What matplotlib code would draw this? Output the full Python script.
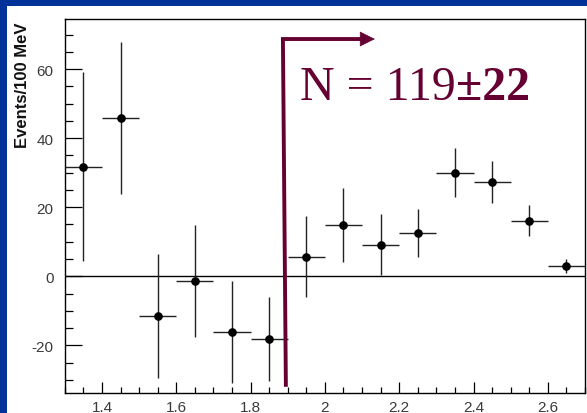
import matplotlib
matplotlib.use("Agg")
import matplotlib.pyplot as plt
from matplotlib.patches import Rectangle, FancyArrowPatch
from matplotlib.ticker import MultipleLocator

plt.rcParams["axes.unicode_minus"] = False

# Background-subtracted mass spectrum, 100 MeV bins
mass = [1.35, 1.45, 1.55, 1.65, 1.75, 1.85, 1.95, 2.05, 2.15, 2.25, 2.35, 2.45, 2.55, 2.65]
events = [31.7, 45.9, -11.5, -1.4, -16.1, -18.1, 5.7, 14.9, 9.1, 12.6, 30.0, 27.3, 16.1, 3.0]
errors = [27.4, 22.0, 18.0, 16.3, 14.7, 12.2, 11.8, 10.8, 8.8, 7.0, 7.1, 6.2, 4.4, 2.1]
bin_half = 0.05

# Signal-region marker and yield
cut_x_low, cut_x_high = 1.895, 1.887
cut_y_low, cut_y_high = -32.0, 68.7
arrow_tip_x = 2.142
yield_main = "N = 119"
yield_err = "±22"

maroon = "#660033"
frame_blue = "#003399"

fig = plt.figure(figsize=(5.87, 4.14), dpi=100)
fig.patch.set_facecolor("white")
fig.patches.append(Rectangle((0, 1 - 7 / 414), 1, 7 / 414, transform=fig.transFigure,
                             facecolor=frame_blue, edgecolor="none", zorder=0))
fig.patches.append(Rectangle((0, 0), 7 / 587, 1, transform=fig.transFigure,
                             facecolor=frame_blue, edgecolor="none", zorder=0))

ax = fig.add_axes([64.8 / 587, 1 - 394 / 414, (585 - 64.8) / 587, (394 - 20) / 414])
ax.set_xlim(1.3, 2.7)
ax.set_ylim(-33.8, 74.5)

ax.axhline(0, color="black", lw=1.0, zorder=1)

ax.errorbar(mass, events, yerr=errors, xerr=bin_half, fmt="o", color="black",
            ecolor="#222222", elinewidth=1.0, capsize=0, markersize=5.2, zorder=3)

# Signal region bracket with arrow
ax.plot([cut_x_low, cut_x_high, arrow_tip_x - 0.03], [cut_y_low, cut_y_high, cut_y_high],
        color=maroon, lw=2.8, solid_joinstyle="miter", solid_capstyle="butt", zorder=4)
ax.add_patch(FancyArrowPatch((arrow_tip_x - 0.05, cut_y_high), (arrow_tip_x, cut_y_high),
                             arrowstyle="-|>,head_length=10,head_width=5",
                             mutation_scale=1, color=maroon, lw=0.5, zorder=4))

t1 = ax.text(1.933, 51.3, yield_main, color=maroon, fontsize=34.5,
             family="Liberation Serif", va="baseline", ha="left")
ax.annotate(yield_err, xy=(1, 0), xycoords=t1, color=maroon, fontsize=34.5,
            family="Liberation Serif", fontweight="bold", va="bottom", ha="left")

for s in ax.spines.values():
    s.set_linewidth(1.0)
    s.set_color("black")

ax.xaxis.set_major_locator(MultipleLocator(0.2))
ax.xaxis.set_minor_locator(MultipleLocator(0.05))
ax.yaxis.set_major_locator(MultipleLocator(20))
ax.yaxis.set_minor_locator(MultipleLocator(5))
ax.tick_params(axis="both", which="both", direction="in", color="black", width=0.9,
               labelcolor="#3a3a3a", labelsize=11)
ax.tick_params(axis="x", which="major", length=8, pad=5)
ax.tick_params(axis="x", which="minor", length=4)
ax.tick_params(axis="y", which="major", length=12.5, pad=8)
ax.tick_params(axis="y", which="minor", length=6)
ax.tick_params(top=False, right=False, which="both")

ax.set_xticks(ax.get_xticks())
ax.set_xticklabels([f"{v:g}" for v in ax.get_xticks()])
ax.set_xlim(1.3, 2.7)
for lbl in ax.get_xticklabels() + ax.get_yticklabels():
    lbl.set_family("Liberation Sans")

fig.text(23 / 587, 1 - 22 / 414, "Events/100 MeV", rotation=90, ha="center", va="top",
         fontsize=12, fontweight="bold", family="Liberation Sans", color="#111111")

fig.savefig("out.png", dpi=100)
